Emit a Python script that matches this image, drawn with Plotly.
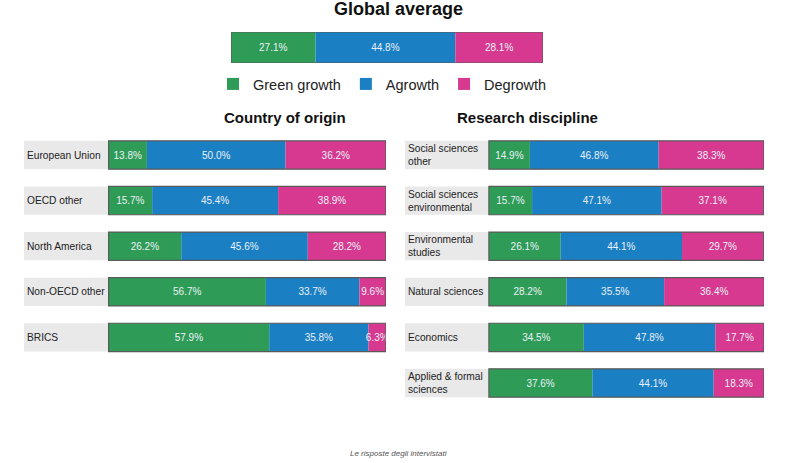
import plotly.graph_objects as go

# ---------------- data ----------------
series_names = ["Green growth", "Agrowth", "Degrowth"]

global_label = ["Global average"]
global_green = [27.1]
global_agrowth = [44.8]
global_degrowth = [28.1]

country_labels = ["European Union", "OECD other", "North America", "Non-OECD other", "BRICS"]
country_green = [13.8, 15.7, 26.2, 56.7, 57.9]
country_agrowth = [50.0, 45.4, 45.6, 33.7, 35.8]
country_degrowth = [36.2, 38.9, 28.2, 9.6, 6.3]

disc_labels = ["Social sciences<br>other", "Social sciences<br>environmental", "Environmental<br>studies",
               "Natural sciences", "Economics", "Applied & formal<br>sciences"]
disc_green = [14.9, 15.7, 26.1, 28.2, 34.5, 37.6]
disc_agrowth = [46.8, 47.1, 44.1, 35.5, 47.8, 44.1]
disc_degrowth = [38.3, 37.1, 29.7, 36.4, 17.7, 18.3]

# ---------------- style ----------------
COLORS = ["#2e9c56", "#1b7fc3", "#d6398f"]
TEXT_COL = "#eaf1f8"
FONT = "Arial, Liberation Sans, sans-serif"
LABEL_SPAN = 30.5
BAR_W = 0.62

W, H = 800, 463


def py(p):  # pixel y -> paper
    return 1 - p / H


fig = go.Figure()
annotations = []


def add_stack(labels, g, a, d, xa, ya, width, show_legend=False, label_span=None):
    n = len(labels)
    if label_span is not None:
        fig.add_trace(go.Bar(
            orientation="h", y=labels, x=[label_span] * n, base=[-label_span] * n,
            width=width, marker=dict(color="#e9e9e9", line=dict(width=0)),
            xaxis=xa, yaxis=ya, showlegend=False, hoverinfo="skip"))
        for lab in labels:
            annotations.append(dict(
                text=lab, x=-label_span, y=lab, xref=xa, yref=ya, xanchor="left",
                yanchor="middle", align="left", xshift=1, showarrow=False,
                font=dict(size=10.2, color="#222222", family=FONT)))
    bases = [[0] * n, list(g), [gi + ai for gi, ai in zip(g, a)]]
    for name, vals, base, col in zip(series_names, [g, a, d], bases, COLORS):
        fig.add_trace(go.Bar(
            orientation="h", y=labels, x=vals, base=base, width=width, name=name,
            marker=dict(color=col, line=dict(width=0)),
            text=[f"{v:.1f}%" for v in vals], textposition="inside",
            insidetextanchor="middle", textangle=0,
            textfont=dict(color=TEXT_COL, size=10, family=FONT),
            xaxis=xa, yaxis=ya, showlegend=show_legend, legendgroup=name))
    totals = [gi + ai + di for gi, ai, di in zip(g, a, d)]
    fig.add_trace(go.Bar(
        orientation="h", y=labels, x=totals, base=[0] * n, width=width,
        marker=dict(color="rgba(0,0,0,0)", line=dict(color="#5a5a5a", width=1.2)),
        xaxis=xa, yaxis=ya, showlegend=False, hoverinfo="skip"))


add_stack(global_label, global_green, global_agrowth, global_degrowth, "x", "y", 1.0, show_legend=True)
add_stack(country_labels, country_green, country_agrowth, country_degrowth, "x2", "y2", BAR_W, label_span=LABEL_SPAN)
add_stack(disc_labels, disc_green, disc_agrowth, disc_degrowth, "x3", "y3", BAR_W, label_span=LABEL_SPAN)

hidden = dict(showgrid=False, zeroline=False, showticklabels=False, showline=False, ticks="")

row_h = 45.6
top = 132.2

annotations += [
    dict(text="<b>Global average</b>", x=398 / W, y=py(9), xref="paper", yref="paper",
         yanchor="middle", showarrow=False, font=dict(size=18, color="#111111")),
    dict(text="<b>Country of origin</b>", x=222 / W, y=py(117), xref="paper", yref="paper",
         yanchor="middle", showarrow=False, font=dict(size=15, color="#111111")),
    dict(text="<b>Research discipline</b>", x=600 / W, y=py(117), xref="paper", yref="paper",
         yanchor="middle", showarrow=False, font=dict(size=15, color="#111111")),
    dict(text="<i>Le risposte degli intervistati</i>", x=398 / W, y=py(453), xref="paper",
         yref="paper", yanchor="middle", showarrow=False, font=dict(size=8, color="#555555")),
]

fig.update_layout(
    width=W, height=H, margin=dict(l=0, r=0, t=0, b=0),
    paper_bgcolor="white", plot_bgcolor="white",
    barmode="overlay",
    font=dict(family=FONT, color="#222222"),
    uniformtext=dict(minsize=10, mode="show"),
    xaxis=dict(domain=[231 / W, 543 / W], range=[0, 100], anchor="y", **hidden),
    yaxis=dict(domain=[py(63), py(32)], range=[-0.5, 0.5], anchor="x", type="category", **hidden),
    xaxis2=dict(domain=[24 / W, 386 / W], range=[-LABEL_SPAN, 100], anchor="y2", **hidden),
    yaxis2=dict(domain=[py(top + row_h * len(country_labels)), py(top)],
                range=[len(country_labels) - 0.5, -0.5], anchor="x2", type="category", **hidden),
    xaxis3=dict(domain=[405 / W, 764 / W], range=[-LABEL_SPAN, 100], anchor="y3", **hidden),
    yaxis3=dict(domain=[py(top + row_h * len(disc_labels)), py(top)],
                range=[len(disc_labels) - 0.5, -0.5], anchor="x3", type="category", **hidden),
    legend=dict(orientation="h", x=213 / W, xanchor="left", y=py(84), yanchor="middle",
                font=dict(size=14.5, color="#222222"), traceorder="normal",
                itemwidth=30, bgcolor="rgba(0,0,0,0)"),
    annotations=annotations,
)

fig.write_html("out.html")
